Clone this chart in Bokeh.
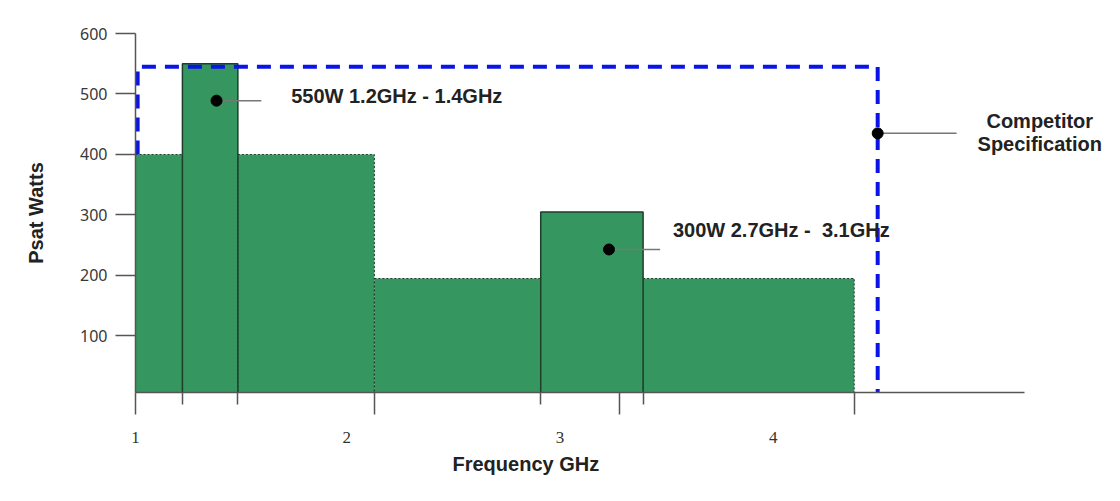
from bokeh.plotting import figure
from bokeh.models import Range1d, LinearAxis, FixedTicker, Label, ColumnDataSource, Title
from bokeh.embed import file_html
from bokeh.resources import INLINE

# ---- data ----
bar_left = [1.01, 1.23, 1.49, 2.13, 2.91, 3.39]
bar_right = [1.23, 1.49, 2.13, 2.91, 3.39, 4.38]
bar_power = [400, 550, 400, 195, 305, 195]
bar_solid = [False, True, False, False, True, False]

x_major_ticks = [1.01, 2.13, 3.28, 4.38]
x_minor_ticks = [1.23, 1.49, 2.91, 3.39]
x_label_ticks = [1.01, 2, 3, 4]
x_label_text = ["1", "2", "3", "4"]
y_ticks = [100, 200, 300, 400, 500, 600]

spec_x = [1.02, 1.02, 4.49, 4.49]
spec_y = [400, 545, 545, 0]

callout_dot_x = [1.39, 3.23, 4.49]
callout_dot_y = [489, 243, 435]
callout_end_x = [1.60, 3.47, 4.86]
callout_text = ["550W 1.2GHz - 1.4GHz", "300W 2.7GHz -\u00a0 3.1GHz"]
callout_text_x = [1.74, 3.53]
callout_text_y = [496, 276]
spec_text = ["Competitor", "Specification"]
spec_text_x = [5.25, 5.25]
spec_text_y = [456, 418]

GREEN = "#35975f"
EDGE = "#1e3d2b"
FONT = "Liberation Sans"

p = figure(width=1112, height=493, output_backend="svg", toolbar_location=None,
           x_range=Range1d(1.01, 5.591), y_range=Range1d(6.6, 600),
           min_border_left=135, min_border_right=0, min_border_top=33, min_border_bottom=101,
           x_axis_type=None, y_axis_type=None)
p.outline_line_color = None
p.grid.visible = False
p.background_fill_color = "white"

# bars
def subset(flag):
    return ColumnDataSource(dict(
        l=[a for a, s in zip(bar_left, bar_solid) if s == flag],
        r=[a for a, s in zip(bar_right, bar_solid) if s == flag],
        t=[a for a, s in zip(bar_power, bar_solid) if s == flag]))

p.quad(left="l", right="r", top="t", bottom=0, source=subset(False), fill_color=GREEN,
       line_color=EDGE, line_width=1, line_dash="2 2")
p.quad(left="l", right="r", top="t", bottom=0, source=subset(True), fill_color=GREEN,
       line_color=EDGE, line_width=1.5)

# competitor spec outline
p.line(spec_x, spec_y, line_color="#0a14e6", line_width=4, line_dash="14 9")

# callouts
p.segment(x0=callout_dot_x, y0=callout_dot_y, x1=callout_end_x, y1=callout_dot_y,
          line_color="#777777", line_width=1.5)
p.scatter(callout_dot_x, callout_dot_y, size=11, color="black")

for t, x, y in zip(callout_text + spec_text, callout_text_x + spec_text_x,
                   callout_text_y + spec_text_y):
    p.add_layout(Label(x=x, y=y, text=t, text_baseline="middle",
                       text_align="left" if t in callout_text else "center",
                       text_font=FONT, text_font_style="bold",
                       text_font_size="20px", text_color="#222222"))

# y axis
yax = LinearAxis(ticker=FixedTicker(ticks=y_ticks), axis_label="Psat Watts")
yax.axis_line_color = "#555555"
yax.axis_line_width = 1.5
yax.major_tick_line_color = "#555555"
yax.major_tick_line_width = 1.5
yax.major_tick_out = 20
yax.major_tick_in = 0
yax.minor_tick_line_color = None
yax.major_label_standoff = 8
yax.major_label_text_font = "Noto Sans"
yax.major_label_text_font_size = "16px"
yax.major_label_text_color = "#383838"
yax.axis_label_text_font = FONT
yax.axis_label_text_font_style = "bold"
yax.axis_label_text_font_size = "20px"
yax.axis_label_text_color = "#222222"
yax.axis_label_standoff = 30
p.add_layout(yax, "left")

# x axis: tick marks at bar edges
xax = LinearAxis(ticker=FixedTicker(ticks=x_major_ticks, minor_ticks=x_minor_ticks),
                 bounds=(1.01, 5.178))
xax.axis_line_color = "#555555"
xax.axis_line_width = 1.5
xax.major_tick_line_color = "#555555"
xax.major_tick_line_width = 1.5
xax.major_tick_out = 22
xax.major_tick_in = 0
xax.minor_tick_line_color = "#555555"
xax.minor_tick_line_width = 1.5
xax.minor_tick_out = 12
xax.minor_tick_in = 0
xax.major_label_overrides = {t: "" for t in x_major_ticks}
xax.major_label_text_font_size = "1px"
xax.major_label_standoff = 0
p.add_layout(xax, "below")

# x axis: frequency labels
xlab = LinearAxis(ticker=FixedTicker(ticks=x_label_ticks))
xlab.major_label_overrides = {t: s for t, s in zip(x_label_ticks, x_label_text)}
xlab.axis_line_color = None
xlab.major_tick_line_color = None
xlab.minor_tick_line_color = None
xlab.major_tick_out = 0
xlab.major_tick_in = 0
xlab.major_label_standoff = 17
xlab.major_label_text_font = "Liberation Serif"
xlab.major_label_text_font_size = "17px"
xlab.major_label_text_color = "#333333"
p.add_layout(xlab, "below")

# x axis title
xt = Title(text="Frequency GHz", align="left", offset=317, standoff=11,
           text_font=FONT, text_font_style="bold", text_font_size="20px",
           text_color="#222222")
p.add_layout(xt, "below")

open("out.html", "w").write(file_html(p, INLINE))
